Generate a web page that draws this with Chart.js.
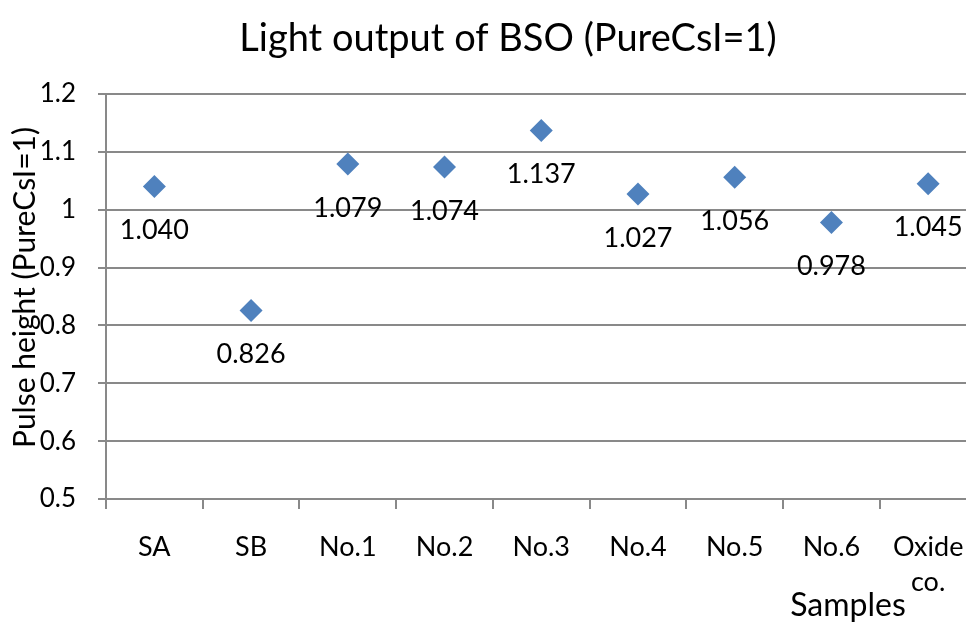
<!DOCTYPE html>
<html>
<head>
<meta charset="utf-8">
<script src="https://cdn.jsdelivr.net/npm/chart.js@4"></script>
<style>
html,body{margin:0;padding:0;background:#fff;overflow:hidden;}
#c{display:block;}
</style>
</head>
<body>
<canvas id="c" width="988" height="624"></canvas>
<script>
const categories = ['SA', 'SB', 'No.1', 'No.2', 'No.3', 'No.4', 'No.5', 'No.6', ['Oxide', 'co.']];
const pulseHeight = [1.040, 0.826, 1.079, 1.074, 1.137, 1.027, 1.056, 0.978, 1.045];
const yTicks = [0.5, 0.6, 0.7, 0.8, 0.9, 1, 1.1, 1.2];
const chartTitle = 'Light output of BSO (PureCsI=1)';
const yTitle = 'Pulse height (PureCsI=1)';
const xTitle = 'Samples';

const FONT = 'Lato, "Liberation Sans", sans-serif';
const GRAY = '#898989';

const labelPlugin = {
  id: 'valueLabels',
  afterDatasetsDraw(chart) {
    const ctx = chart.ctx;
    const meta = chart.getDatasetMeta(0);
    ctx.save();
    ctx.font = '27px ' + FONT;
    ctx.fillStyle = '#000';
    ctx.textAlign = 'center';
    ctx.textBaseline = 'middle';
    meta.data.forEach((el, i) => {
      ctx.fillText(pulseHeight[i].toFixed(3), el.x, el.y + 44);
    });
    ctx.restore();
  }
};

const titles = {
  id: 'titles',
  afterDraw(chart) {
    const ctx = chart.ctx;
    const area = chart.chartArea;
    ctx.save();
    ctx.fillStyle = '#000';
    ctx.textAlign = 'center';
    ctx.textBaseline = 'middle';
    ctx.font = '38px ' + FONT;
    ctx.fillText(chartTitle, 508, 39);
    ctx.font = '32px ' + FONT;
    ctx.fillText(xTitle, 848, 606);
    ctx.font = '30px ' + FONT;
    ctx.translate(25, (area.top + area.bottom) / 2 - 9);
    ctx.rotate(-Math.PI / 2);
    ctx.fillText(yTitle, 0, 0);
    ctx.restore();
  }
};

new Chart(document.getElementById('c'), {
  type: 'line',
  data: {
    labels: categories,
    datasets: [{
      data: pulseHeight,
      showLine: false,
      pointStyle: 'rectRot',
      pointRadius: 11.5,
      pointHoverRadius: 11.5,
      pointBackgroundColor: '#4F81BD',
      pointBorderColor: '#4F81BD',
      pointBorderWidth: 0
    }]
  },
  options: {
    responsive: false,
    animation: false,
    layout: { padding: { left: 0, right: 0, top: 94, bottom: 0 } },
    plugins: {
      legend: { display: false },
      tooltip: { enabled: false },
      title: { display: false }
    },
    scales: {
      x: {
        type: 'category',
        offset: true,
        grid: {
          offset: true,
          drawOnChartArea: false,
          drawTicks: true,
          tickLength: 10,
          color: GRAY,
          lineWidth: 2
        },
        border: { display: true, color: GRAY, width: 2 },
        ticks: {
          color: '#000',
          font: { family: FONT, size: 27, lineHeight: 1.3 },
          padding: 21,
          maxRotation: 0,
          autoSkip: false
        },
        afterFit(scale) {
          scale.height = 125;
          scale.paddingLeft = 0;
          scale.paddingRight = 0;
        }
      },
      y: {
        min: 0.5,
        max: 1.2,
        afterBuildTicks(scale) { scale.ticks = yTicks.map(v => ({ value: v })); },
        grid: {
          color: GRAY,
          lineWidth: 2,
          drawTicks: true,
          tickLength: 8
        },
        border: { display: true, color: GRAY, width: 2 },
        ticks: {
          color: '#000',
          font: { family: FONT, size: 26 },
          padding: 22,
          callback: v => String(Math.round(v * 10) / 10)
        },
        afterFit(scale) {
          scale.width = 106;
          scale.paddingTop = 0;
          scale.paddingBottom = 0;
        }
      }
    }
  },
  plugins: [labelPlugin, titles]
});
</script>
</body>
</html>
